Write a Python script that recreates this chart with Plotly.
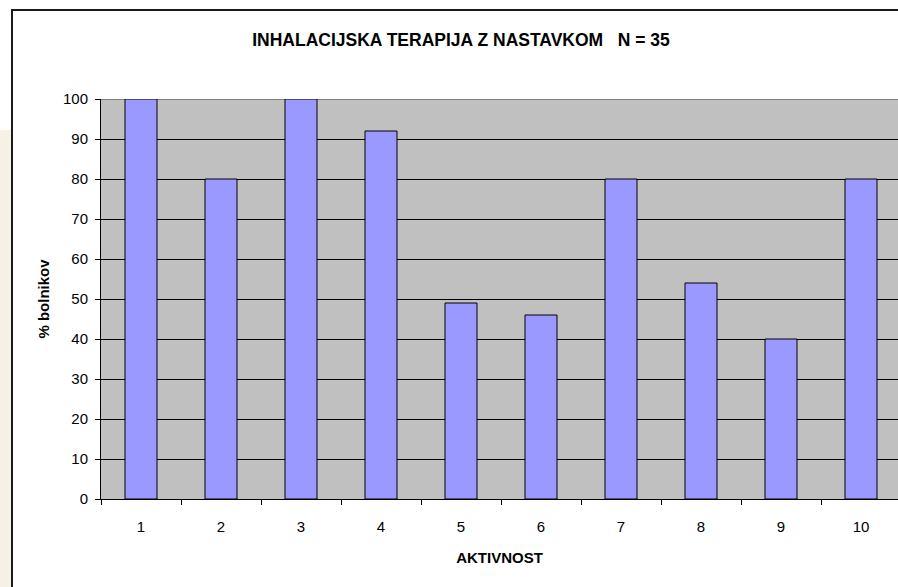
import plotly.graph_objects as go

categories = [1, 2, 3, 4, 5, 6, 7, 8, 9, 10]
values = [100, 80, 100, 92, 49, 46, 80, 54, 40, 80]
y_ticks = [0, 10, 20, 30, 40, 50, 60, 70, 80, 90, 100]
title_text = "INHALACIJSKA TERAPIJA Z NASTAVKOM   N = 35"
x_title = "AKTIVNOST"
y_title = "% bolnikov"

W, H = 898, 587
L, R, T, B = 101, 0, 99, 88
pw = W - L - R
ph = H - T - B

def px_x(px):
    return (px - L) / pw

def px_y(py):
    return (H - B - py) / ph

FONT = "Liberation Sans, Arial, sans-serif"

fig = go.Figure()
fig.add_trace(go.Bar(
    x=categories, y=values, width=0.4,
    marker=dict(color="#9999FF", line=dict(color="#000000", width=1)),
    showlegend=False, hoverinfo="x+y",
))

shapes = [
    dict(type="rect", xref="paper", yref="paper", x0=px_x(0), x1=px_x(11), y0=px_y(130), y1=px_y(H + 2),
         fillcolor="#F5F1E6", line=dict(width=0), layer="below"),
    dict(type="line", xref="paper", yref="paper", x0=px_x(12), x1=px_x(12), y0=px_y(10), y1=px_y(H + 2),
         line=dict(color="#1a1a1a", width=2)),
    dict(type="line", xref="paper", yref="paper", x0=px_x(11), x1=px_x(W + 2), y0=px_y(10), y1=px_y(10),
         line=dict(color="#1a1a1a", width=2)),
    dict(type="line", xref="paper", yref="y", x0=0, x1=1, y0=100, y1=100,
         line=dict(color="#808080", width=2), layer="between"),
]

fig.update_layout(
    width=W, height=H,
    margin=dict(l=L, r=R, t=T, b=B, autoexpand=False),
    paper_bgcolor="#FFFFFF",
    plot_bgcolor="#C0C0C0",
    font=dict(family=FONT, size=15, color="#000000"),
    title=dict(text="<b>" + title_text + "</b>", x=461 / W, xref="container", xanchor="center",
               y=1 - 40 / H, yref="container", yanchor="middle",
               font=dict(family=FONT, size=17.5, color="#000000")),
    bargap=0.6,
    shapes=shapes,
)

fig.update_xaxes(
    range=[0.5, 0.5 + pw / 80.0],
    tickmode="array", tickvals=categories, ticktext=[str(c) for c in categories],
    ticks="", showgrid=False, zeroline=False,
    showline=True, linecolor="#000000", linewidth=1,
    ticklabelstandoff=14,
    minor=dict(tickmode="array", tickvals=[c + 0.5 for c in [0] + categories],
               ticks="outside", ticklen=5, tickcolor="#000000", tickwidth=1, showgrid=False),
    tickfont=dict(family=FONT, size=15, color="#000000"),
    title=dict(text="<b>" + x_title + "</b>", standoff=18, font=dict(family=FONT, size=15, color="#000000")),
    automargin=False, fixedrange=True,
)

fig.update_yaxes(
    range=[0, 100], tickmode="array", tickvals=y_ticks,
    ticks="outside", ticklen=5, tickcolor="#000000", tickwidth=1,
    showgrid=True, gridcolor="#000000", gridwidth=1,
    zeroline=False, showline=True, linecolor="#000000", linewidth=1,
    ticklabelstandoff=4,
    tickfont=dict(family=FONT, size=15, color="#000000"),
    title=dict(text="<b>" + y_title + "</b>", standoff=9, font=dict(family=FONT, size=15, color="#000000")),
    automargin=False, fixedrange=True,
)

fig.write_html("out.html", config={"displayModeBar": False},
               post_script="document.body.style.margin='0';document.body.style.overflow='hidden';")
